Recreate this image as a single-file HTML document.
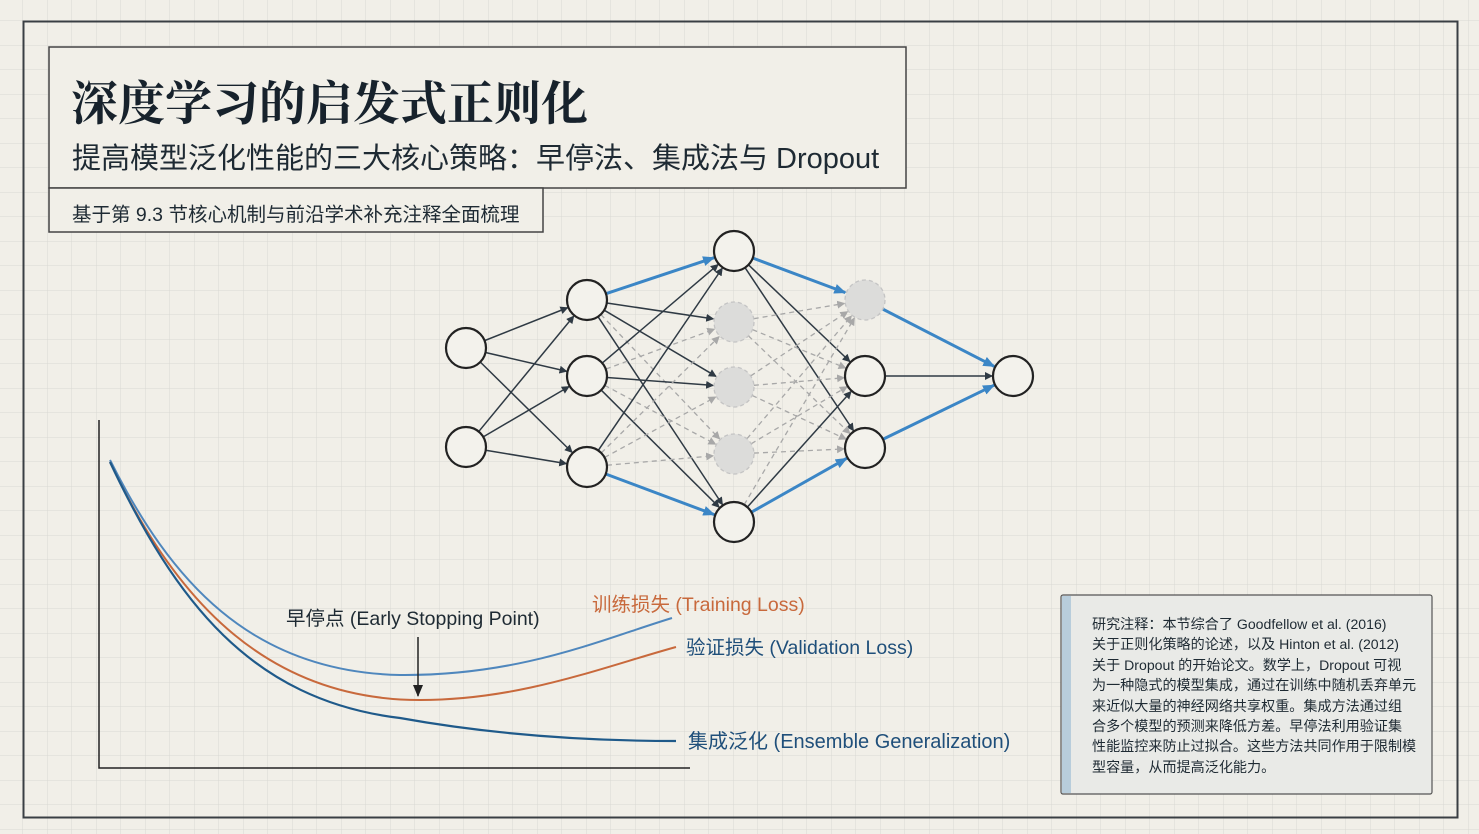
<!DOCTYPE html>
<html><head><meta charset="utf-8"><style>
html,body{margin:0;padding:0;width:1479px;height:834px;overflow:hidden;background:#f1efe8;}
.t{position:absolute;font-family:"Liberation Sans","Noto Sans CJK SC",sans-serif;color:#1e2a33;white-space:nowrap}
</style></head><body>
<svg id="s" width="1479" height="834" style="position:absolute;left:0;top:0" xmlns="http://www.w3.org/2000/svg">
<defs>
<pattern id="g" x="23" y="21" width="24.5" height="24.5" patternUnits="userSpaceOnUse">
<path d="M24.5 0V24.5H0" fill="none" stroke="#d9d9d3" stroke-width="1"/></pattern>
<marker id="ak" markerWidth="8" markerHeight="8" refX="7" refY="4" orient="auto" markerUnits="userSpaceOnUse"><path d="M0 0L8 4L0 8z" fill="#2f3a44"/></marker>
<marker id="ab" markerWidth="12" markerHeight="10" refX="11" refY="5" orient="auto" markerUnits="userSpaceOnUse"><path d="M0 0L12 5L0 10z" fill="#3b86c6"/></marker>
<marker id="ag" markerWidth="8" markerHeight="8" refX="7" refY="4" orient="auto" markerUnits="userSpaceOnUse"><path d="M0 0L8 4L0 8z" fill="#a8a8a8"/></marker>
<marker id="aa" markerWidth="12" markerHeight="10" refX="11" refY="5" orient="auto" markerUnits="userSpaceOnUse"><path d="M0 0L12 5L0 10z" fill="#222"/></marker>
</defs>
<rect x="0" y="0" width="1479" height="834" fill="url(#g)"/>
<rect x="23.5" y="21.5" width="1434" height="796" fill="none" stroke="#3a3f44" stroke-width="2"/>
<rect x="49" y="47" width="857" height="141" fill="#f1efe8" stroke="#444" stroke-width="1.5"/>
<rect x="49" y="188" width="494" height="44" fill="#f1efe8" stroke="#444" stroke-width="1.5"/>
<g id="edges"></g><g id="nodes"></g>
<path d="M99 420V768H690" fill="none" stroke="#222" stroke-width="1.5"/>
<path d="M110 460C170 580 250 672 400 675C520 676 600 640 672 618" fill="none" stroke="#4f87bd" stroke-width="2"/>
<path d="M110 462C170 590 260 700 420 700C520 700 600 668 676 647" fill="none" stroke="#c8693c" stroke-width="2"/>
<path d="M110 462C175 600 250 700 400 718C500 736 600 741 676 741" fill="none" stroke="#1f5a8a" stroke-width="2.2"/>
<line x1="418" y1="637" x2="418" y2="696" stroke="#222" stroke-width="1.5" marker-end="url(#aa)"/>
<rect x="1061" y="595" width="371" height="199" rx="2" fill="#e9eae7" stroke="#555" stroke-width="1.2"/>
<rect x="1062" y="596" width="9" height="197" fill="#b8cddb"/>
</svg>
<div class="t" style="left:71px;top:67px;font-size:47px;font-weight:bold;font-family:'Liberation Serif','Noto Serif CJK SC',serif;color:#17222c">深度学习的启发式正则化</div>
<div class="t" style="left:72px;top:135px;font-size:29px;">提高模型泛化性能的三大核心策略：早停法、集成法与 Dropout</div>
<div class="t" style="left:72px;top:198px;font-size:19.5px;">基于第 9.3 节核心机制与前沿学术补充注释全面梳理</div>
<div class="t" style="left:286px;top:602px;font-size:19.5px;">早停点 (Early Stopping Point)</div>
<div class="t" style="left:592px;top:588px;font-size:19.5px;color:#c8693c">训练损失 (Training Loss)</div>
<div class="t" style="left:686px;top:631px;font-size:19.5px;color:#1f4f7a">验证损失 (Validation Loss)</div>
<div class="t" style="left:688px;top:725px;font-size:20px;color:#1f4f7a">集成泛化 (Ensemble Generalization)</div>
<div class="t" style="left:1092px;top:614px;font-size:14.1px;line-height:20.4px;">研究注释：本节综合了 Goodfellow et al. (2016)<br>关于正则化策略的论述，以及 Hinton et al. (2012)<br>关于 Dropout 的开始论文。数学上，Dropout 可视<br>为一种隐式的模型集成，通过在训练中随机丢弃单元<br>来近似大量的神经网络共享权重。集成方法通过组<br>合多个模型的预测来降低方差。早停法利用验证集<br>性能监控来防止过拟合。这些方法共同作用于限制模<br>型容量，从而提高泛化能力。</div>
<script>
var N={a1:[466,348,0],a2:[466,447,0],b1:[587,300,0],b2:[587,376,0],b3:[587,467,0],
c1:[734,251,0],c2:[734,322,1],c3:[734,387,1],c4:[734,454,1],c5:[734,522,0],
d1:[865,300,1],d2:[865,376,0],d3:[865,448,0],o:[1013,376,0]};
var R=20,E=document.getElementById('edges'),S='http://www.w3.org/2000/svg';
function ln(a,b,t){var p=N[a],q=N[b],dx=q[0]-p[0],dy=q[1]-p[1],L=Math.hypot(dx,dy);
var l=document.createElementNS(S,'line');l.setAttribute('x1',p[0]+dx/L*R);l.setAttribute('y1',p[1]+dy/L*R);
l.setAttribute('x2',q[0]-dx/L*(R+1));l.setAttribute('y2',q[1]-dy/L*(R+1));
if(t=='b'){l.setAttribute('stroke','#3b86c6');l.setAttribute('stroke-width','3');l.setAttribute('marker-end','url(#ab)');}
else if(t=='g'){l.setAttribute('stroke','#a8a8a8');l.setAttribute('stroke-width','1.3');l.setAttribute('stroke-dasharray','5 4');l.setAttribute('marker-end','url(#ag)');}
else{l.setAttribute('stroke','#2f3a44');l.setAttribute('stroke-width','1.5');l.setAttribute('marker-end','url(#ak)');}
E.appendChild(l);}
['a1','a2'].forEach(a=>['b1','b2','b3'].forEach(b=>ln(a,b)));
['b1','b2','b3'].forEach(b=>['c1','c2','c3','c4','c5'].forEach(c=>{
 if(b=='b1'&&c=='c1'||b=='b3'&&c=='c5')ln(b,c,'b');else if(b=='b2'&&(c=='c2'||c=='c4')||b=='b3'&&c=='c4'||b=='b1'&&c=='c4')ln(b,c,N[c][2]?'g':'k');else ln(b,c,N[c][2]&&b!='b1'&&b!='b2'?'g':'k');}));
['c1','c2','c3','c4','c5'].forEach(c=>['d1','d2','d3'].forEach(d=>{
 if(c=='c1'&&d=='d1'||c=='c5'&&d=='d3')ln(c,d,'b');else if(N[c][2]||N[d][2])ln(c,d,'g');else ln(c,d,'k');}));
ln('d1','o','b');ln('d3','o','b');ln('d2','o');
var G=document.getElementById('nodes');
for(var k in N){var p=N[k],c=document.createElementNS(S,'circle');c.setAttribute('cx',p[0]);c.setAttribute('cy',p[1]);c.setAttribute('r',R);
if(p[2]){c.setAttribute('fill','#dcdcda');c.setAttribute('stroke','#c4c4c4');c.setAttribute('stroke-dasharray','4 3');c.setAttribute('stroke-width','1.3');}
else{c.setAttribute('fill','#f3f2ec');c.setAttribute('stroke','#222');c.setAttribute('stroke-width','2.2');}
G.appendChild(c);}
</script>
</body></html>
